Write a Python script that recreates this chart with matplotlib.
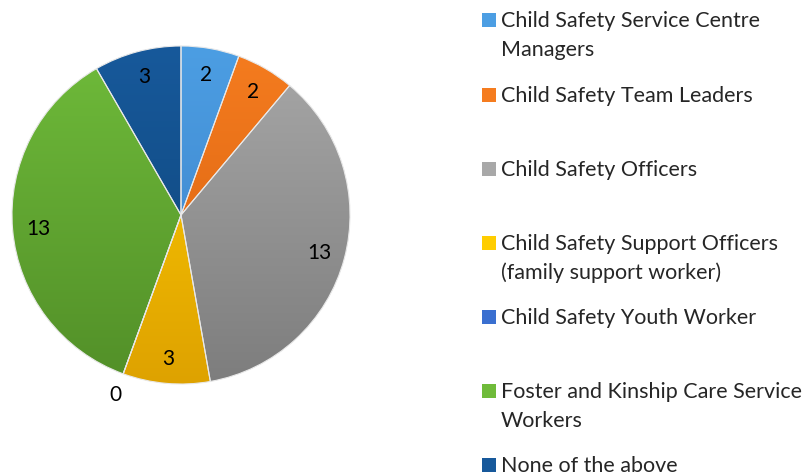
import numpy as np
import matplotlib
matplotlib.use("Agg")
import matplotlib.pyplot as plt
from matplotlib.colors import LinearSegmentedColormap
from matplotlib.patches import Rectangle

plt.rcParams['font.family'] = ['Lato', 'DejaVu Sans']

# --- Data ---
categories = [
    "Child Safety Service Centre\nManagers",
    "Child Safety Team Leaders",
    "Child Safety Officers",
    "Child Safety Support Officers\n(family support worker)",
    "Child Safety Youth Worker",
    "Foster and Kinship Care Service\nWorkers",
    "None of the above",
]
counts = [2, 2, 13, 3, 0, 13, 3]

# top / bottom colours of the Excel-like gradient
top_colors = ["#4c9ee3", "#f57c1f", "#a8a8a8", "#ffcd00", "#3a6fd0", "#6fbb3a", "#17599b"]
bottom_colors = ["#3b7fc6", "#d6600f", "#7d7d7d", "#dea200", "#2a55b0", "#528f28", "#0e4477"]

W, H = 812, 477
fig = plt.figure(figsize=(W / 100, H / 100), dpi=100)

cx, cy, r = 181, 216, 169
ax = fig.add_axes([(cx - r) / W, (H - cy - r) / H, 2 * r / W, 2 * r / H])

wedges, _ = ax.pie(counts, startangle=90, counterclock=False, radius=1,
                   colors=top_colors, wedgeprops=dict(edgecolor="white", linewidth=0.6))

# gradient fill clipped to each wedge
grad = np.linspace(0, 1, 256).reshape(-1, 1)
for w, c0, c1 in zip(wedges, top_colors, bottom_colors):
    cmap = LinearSegmentedColormap.from_list("g", [c0, c1])
    im = ax.imshow(grad, cmap=cmap, extent=(-1, 1, -1, 1), origin="upper",
                   aspect="auto", zorder=w.get_zorder() + 0.1)
    im.set_clip_path(w)

# edge lines on top
ax.pie(counts, startangle=90, counterclock=False, radius=1,
       colors=["none"] * len(counts),
       wedgeprops=dict(edgecolor="#e8e8e8", linewidth=0.8, zorder=5))

# value labels
for w, v in zip(wedges, counts):
    ang = np.deg2rad((w.theta1 + w.theta2) / 2)
    d = 0.85 if v > 0 else 1.13
    ax.text(d * np.cos(ang), d * np.sin(ang), str(v), ha="center", va="center",
            fontsize=15, color="black", zorder=10)

ax.set_xlim(-1, 1)
ax.set_ylim(-1, 1)
ax.set_aspect("equal")
ax.axis("off")

# --- Legend ---
legend_y = [21, 96, 170, 244, 318, 392, 466]
for lab, y, c0 in zip(categories, legend_y, top_colors):
    fig.patches.append(Rectangle((482 / W, (H - y - 7) / H), 14 / W, 14 / H,
                                 transform=fig.transFigure, facecolor=c0,
                                 edgecolor="none"))
    for i, line in enumerate(lab.split("\n")):
        fig.text(501 / W, (H - y - 29 * i) / H, line, ha="left", va="center",
                 fontsize=15.5, color="#262626")

fig.savefig("out.png", dpi=100)
